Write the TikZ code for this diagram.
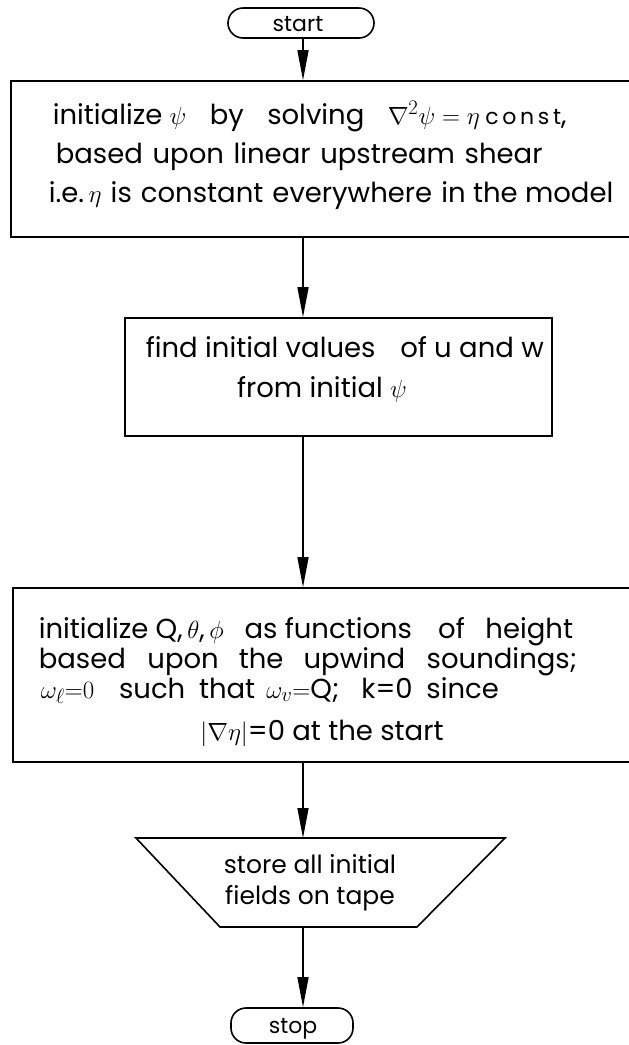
\documentclass[tikz,border=0pt]{standalone}
\usepackage{fontspec}
\setmainfont{Poppins}
\usetikzlibrary{arrows.meta}
\newcommand{\wsp}[1]{\hspace{#1em}}
\begin{document}
\begin{tikzpicture}[x=1pt,y=-1pt,
  line width=1.6pt,
  box/.style={draw, rectangle, inner sep=0pt},
  term/.style={draw, rectangle, rounded corners=15pt, inner sep=0pt},
  txt/.style={inner sep=0pt, font=\fontsize{27.5}{30}\selectfont},
  trtxt/.style={inner sep=0pt, font=\fontsize{25}{30}\selectfont},
  ttxt/.style={inner sep=0pt, font=\fontsize{22}{25}\selectfont},
  arr/.style={-{Triangle[length=30pt,width=11pt]}, line width=1.4pt}]
\useasboundingbox (0,0) rectangle (629,1045);
\clip (0,0) rectangle (629,1045);
\coordinate (col) at (303,0);
% start
\node[term, minimum width=146pt, minimum height=30pt] (start) at (301,23) {};
\node[ttxt, anchor=base] (tstart) at (298,31) {start};
% box 1
\node[box, minimum width=629pt, minimum height=156pt] (b1) at (325.5,159) {};
\node[txt, anchor=base west] (l11) at (52,124) {initialize $\psi$\wsp{0.85}by\wsp{0.85}solving\wsp{0.85}$\nabla^{2}\psi\;{=}\;\eta$\wsp{0.2}{\fontsize{22}{24}\selectfont c\,o\,n\,s\,t},};
\node[txt, anchor=base west] (l12) at (55,163) {based\wsp{0.35}upon\wsp{0.35}linear\wsp{0.35}upstream\wsp{0.35}shear};
\node[txt, anchor=base west] (l13) at (48,202) {i.e.\,$\eta$\wsp{0.33}is\wsp{0.33}constant\wsp{0.33}everywhere\wsp{0.33}in the model};
% box 2
\node[box, minimum width=427pt, minimum height=118pt] (b2) at (338.5,377) {};
\node[txt, anchor=base west] (l21) at (145,357) {find initial values\wsp{0.9}of u and w};
\node[txt, anchor=base] (l22) at (322,397) {from initial $\psi$};
% box 3
\node[box, minimum width=627pt, minimum height=174pt] (b3) at (326.5,675) {};
\node[txt, anchor=base west] (l31) at (38,638) {initialize Q,\,$\theta$,\,$\phi$\wsp{0.75}as functions\wsp{0.95}of\wsp{0.75}height};
\node[txt, anchor=base west] (l32) at (38,668) {based\wsp{0.78}upon\wsp{0.73}the\wsp{0.73}upwind\wsp{0.78}soundings;};
\node[txt, anchor=base west] (l33) at (40,698) {$\omega_{\ell}{=}0$\wsp{0.9}such\wsp{0.5}that\wsp{0.4}$\omega_{v}{=}$Q;\wsp{0.8}k=0\wsp{0.5}since};
\node[txt, anchor=base] (l34) at (322,740) {$|\nabla\eta|$=0 at the start};
% trapezoid (output)
\coordinate (tTL) at (136,838);
\coordinate (tTR) at (505,838);
\coordinate (tBR) at (417,927);
\coordinate (tBL) at (220,927);
\draw (tTL) -- (tTR) -- (tBR) -- (tBL) -- cycle;
\node[trtxt, anchor=base] (l41) at (310,873) {store all initial};
\node[trtxt, anchor=base] (l42) at (310,904) {fields on tape};
% stop
\node[term, minimum width=122pt, minimum height=35pt] (stop) at (292,1025.5) {};
\node[ttxt, anchor=base] (tstop) at (293,1033) {stop};
% connectors
\draw[arr] (start.south -| col) -- (b1.north -| col);
\draw[arr] (b1.south -| col) -- (b2.north -| col);
\draw[arr] (b2.south -| col) -- (b3.north -| col);
\draw[arr] (b3.south -| col) -- (tTL -| col);
\draw[arr] (tBL -| col) -- (stop.north -| col);
\end{tikzpicture}
\end{document}
